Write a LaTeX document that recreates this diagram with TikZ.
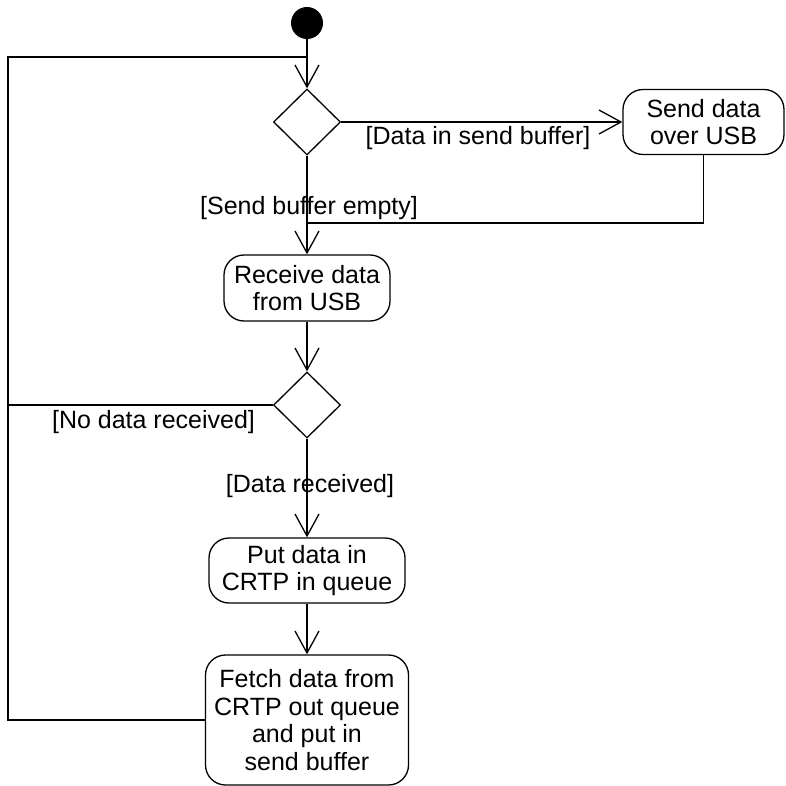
\documentclass[tikz,border=0pt]{standalone}
\usepackage{fontspec}
\setmainfont{Liberation Sans}
\usetikzlibrary{arrows.meta,shapes.geometric}
\begin{document}
\begin{tikzpicture}[x=1pt,y=-1pt,
  flow/.style={line width=1.3pt},
  arr/.style={flow,-{Straight Barb[length=22pt,width=24pt,line width=1.3pt]}},
  act/.style={draw,line width=1.3pt,rounded corners=20pt,align=center,inner sep=0pt,
    font=\fontsize{25}{27.5}\selectfont},
  decision/.style={draw,line width=1.3pt,diamond,minimum width=67pt,minimum height=66pt,inner sep=0pt},
  guard/.style={inner sep=0pt,font=\fontsize{25}{27.5}\selectfont}]
\useasboundingbox (0,0) rectangle (786,786);

% initial state
\node[circle,fill=black,minimum size=32pt,inner sep=0pt] (start) at (307,23) {};

% decisions and activities
\node[decision] (d1) at (307,122) {};
\node[act,minimum width=161pt,minimum height=65pt] (send) at (703.5,122) {Send data\\over USB};
\node[act,minimum width=166pt,minimum height=66pt] (recv) at (307,288) {Receive data\\from USB};
\node[decision] (d2) at (307,405) {};
\node[act,minimum width=196pt,minimum height=65pt] (put) at (307,570.5) {Put data in\\CRTP in queue};
\node[act,minimum width=203pt,minimum height=130pt] (fetch) at (307,720) {Fetch data from\\CRTP out queue\\and put in\\send buffer};

% junction points
\coordinate (m1) at (307,57);
\coordinate (m2) at (307,223);
\coordinate (lc) at (8,57);
\coordinate (j2) at (8,405);

% connectors
\draw[flow] (start) -- (m1);
\draw[arr] (m1) -- (d1.north);
\draw[arr] (d1.east) -- (send.west);
\draw[flow] (send.south) |- (m2);
\draw[arr] (d1.south) -- (recv.north);
\draw[arr] (recv.south) -- (d2.north);
\draw[flow] (d2.west) -- (j2);
\draw[arr] (d2.south) -- (put.north);
\draw[arr] (put.south) -- (fetch.north);
\draw[flow] (fetch.west) -| (lc) -- (m1);

% guard labels
\node[guard] (g1) at (478,138) {[Data in send buffer]};
\node[guard] (g2) at (309,208) {[Send buffer empty]};
\node[guard] (g3) at (153.5,422) {[No data received]};
\node[guard] (g4) at (310,486) {[Data received]};
\end{tikzpicture}
\end{document}
